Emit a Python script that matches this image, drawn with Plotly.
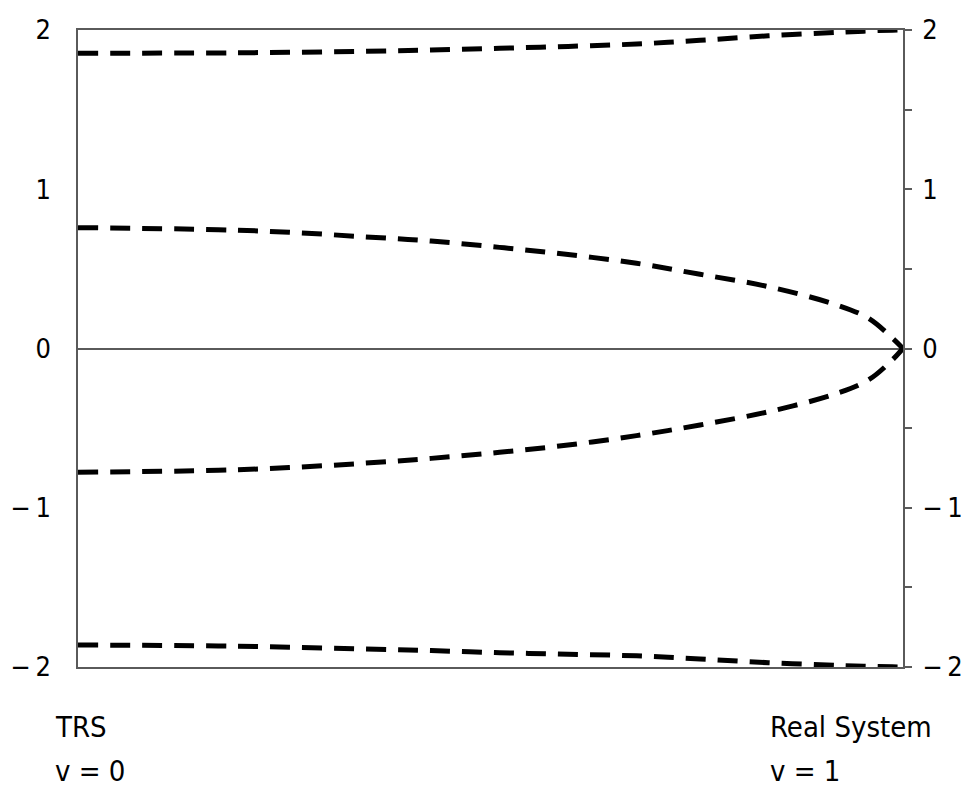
import plotly.graph_objects as go

v = [0.0, 0.17, 0.256, 0.345, 0.428, 0.511, 0.594, 0.677, 0.754, 0.837, 0.92, 0.958, 0.987, 1.0]
curve_top = [1.854, 1.856, 1.860, 1.866, 1.874, 1.885, 1.897, 1.912, 1.935, 1.964, 1.985, 1.994, 1.999, 2.0]
curve_upper = [0.759, 0.746, 0.730, 0.702, 0.675, 0.635, 0.590, 0.535, 0.466, 0.388, 0.273, 0.190, 0.066, 0.0]
curve_lower = [-0.777, -0.765, -0.748, -0.721, -0.690, -0.652, -0.606, -0.547, -0.480, -0.397, -0.282, -0.198, -0.072, 0.0]
curve_bottom = [-1.862, -1.868, -1.876, -1.886, -1.897, -1.910, -1.920, -1.930, -1.950, -1.973, -1.990, -1.996, -1.999, -2.0]

left_tick_vals = [2, 1, 0, -1, -2]
left_tick_text = ["2", "1", "0", "\u2212\u20091", "\u2212\u20092"]
right_tick_vals = [2, 1.5, 1, 0.5, 0, -0.5, -1, -1.5, -2]
right_tick_text = ["2", "", "1", "", "0", "", "\u2212\u20091", "", "\u2212\u20092"]

FONT = "Liberation Sans Narrow, DejaVu Sans Condensed, Roboto, sans-serif"
LINE = "#5a5a5a"

fig = go.Figure()
for ys in [curve_top, curve_upper, curve_lower, curve_bottom]:
    fig.add_trace(go.Scatter(
        x=v, y=ys, mode="lines", line=dict(color="black", width=5, dash="20px,12px", shape="spline"),
        showlegend=False, hoverinfo="skip"))

# dummy trace for right axis
fig.add_trace(go.Scatter(x=[None], y=[None], yaxis="y2", showlegend=False))

fig.update_layout(
    width=961, height=779,
    margin=dict(l=70, r=66, t=22, b=120),
    plot_bgcolor="white", paper_bgcolor="white",
    font=dict(family=FONT, size=27, color="black"),
    xaxis=dict(range=[0, 1], showgrid=False, zeroline=False, showticklabels=False, automargin=False,
               ticks="", showline=True, mirror=True, linecolor=LINE, linewidth=1.5),
    yaxis=dict(range=[-2, 2], showgrid=False, zeroline=True, zerolinecolor=LINE, zerolinewidth=1.5,
               tickvals=left_tick_vals, ticktext=left_tick_text, ticks="", automargin=False,
               showline=True, linecolor=LINE, linewidth=1.5, ticklabelstandoff=20),
    yaxis2=dict(range=[-2, 2], overlaying="y", side="right", showgrid=False, zeroline=False,
                tickvals=right_tick_vals, ticktext=right_tick_text, ticks="outside", ticklen=7,
                tickcolor=LINE, tickwidth=1.5, showline=True, linecolor=LINE, linewidth=1.5,
                ticklabelstandoff=5, automargin=False),
)

ann_font = dict(size=29, family=FONT)
fig.add_annotation(xref="paper", yref="paper", x=-0.030, y=-0.094, xanchor="left", yanchor="middle",
                   text="TRS", showarrow=False, font=ann_font)
fig.add_annotation(xref="paper", yref="paper", x=-0.030, y=-0.163, xanchor="left", yanchor="middle",
                   text="v = 0", showarrow=False, font=ann_font)
fig.add_annotation(xref="paper", yref="paper", x=0.836, y=-0.094, xanchor="left", yanchor="middle",
                   text="Real System", showarrow=False, font=ann_font)
fig.add_annotation(xref="paper", yref="paper", x=0.836, y=-0.163, xanchor="left", yanchor="middle",
                   text="v = 1", showarrow=False, font=ann_font)

fig.write_html("out.html")
